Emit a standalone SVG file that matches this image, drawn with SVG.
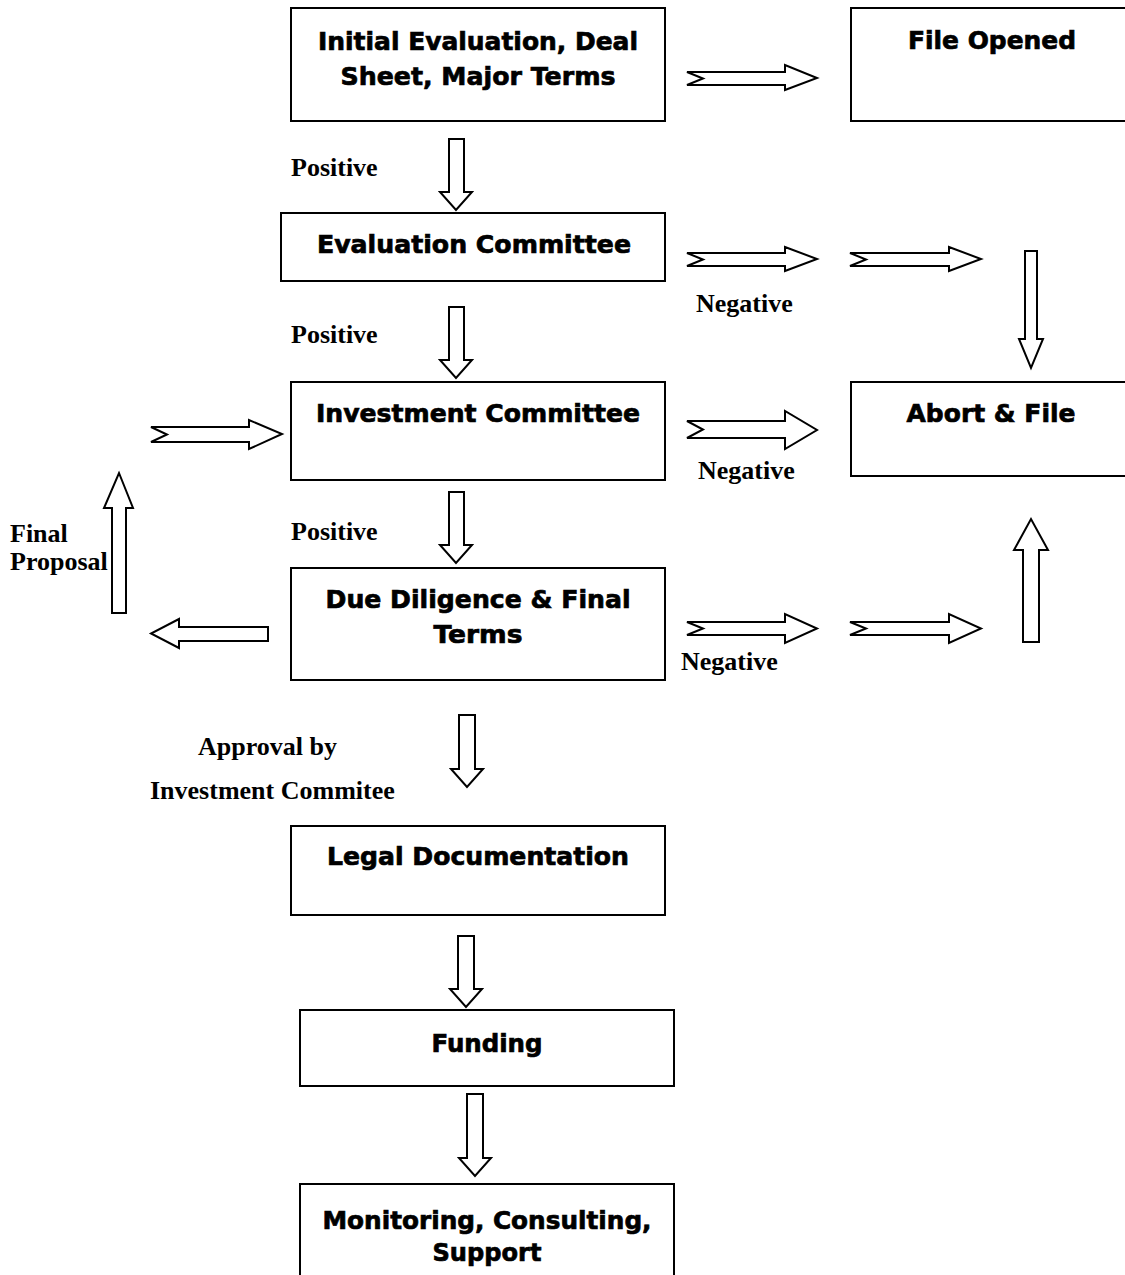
<svg xmlns="http://www.w3.org/2000/svg" width="1125" height="1275" viewBox="0 0 1125 1275">
<style>
.box{fill:#fff;stroke:#000;stroke-width:2}
.arr{fill:#fff;stroke:#000;stroke-width:2;stroke-linejoin:miter}
.t{font-family:"DejaVu Sans","Liberation Sans",sans-serif;font-weight:bold;font-size:25px;text-anchor:middle;fill:#000;stroke:#000;stroke-width:0.7}
.l{font-family:"Liberation Serif","Times New Roman",serif;font-weight:bold;font-size:26px;fill:#000}
</style>
<rect width="1125" height="1275" fill="#fff"/>
<g id="n-initial"><rect class="box" x="291" y="8" width="374" height="113"/>
<text class="t" x="478" y="50" textLength="320" lengthAdjust="spacingAndGlyphs">Initial Evaluation, Deal</text>
<text class="t" x="478" y="85" textLength="275" lengthAdjust="spacingAndGlyphs">Sheet, Major Terms</text></g>
<g id="n-fileopened"><rect class="box" x="851" y="8" width="290" height="113"/>
<text class="t" x="992" y="49" textLength="168" lengthAdjust="spacingAndGlyphs">File Opened</text></g>
<g id="n-evaluation"><rect class="box" x="281" y="213" width="384" height="68"/>
<text class="t" x="474" y="253" textLength="314" lengthAdjust="spacingAndGlyphs">Evaluation Committee</text></g>
<g id="n-investment"><rect class="box" x="291" y="382" width="374" height="98"/>
<text class="t" x="478" y="422" textLength="324" lengthAdjust="spacingAndGlyphs">Investment Committee</text></g>
<g id="n-abort"><rect class="box" x="851" y="382" width="290" height="94"/>
<text class="t" x="991" y="422" textLength="169" lengthAdjust="spacingAndGlyphs">Abort &amp; File</text></g>
<g id="n-due"><rect class="box" x="291" y="568" width="374" height="112"/>
<text class="t" x="478" y="608" textLength="305" lengthAdjust="spacingAndGlyphs">Due Diligence &amp; Final</text>
<text class="t" x="478" y="643" textLength="89" lengthAdjust="spacingAndGlyphs">Terms</text></g>
<g id="n-legal"><rect class="box" x="291" y="826" width="374" height="89"/>
<text class="t" x="478" y="865" textLength="302" lengthAdjust="spacingAndGlyphs">Legal Documentation</text></g>
<g id="n-funding"><rect class="box" x="300" y="1010" width="374" height="76"/>
<text class="t" x="487" y="1052" textLength="111" lengthAdjust="spacingAndGlyphs">Funding</text></g>
<g id="n-monitoring"><rect class="box" x="300" y="1184" width="374" height="110"/>
<text class="t" x="487" y="1229" textLength="329" lengthAdjust="spacingAndGlyphs">Monitoring, Consulting,</text>
<text class="t" x="487" y="1261" textLength="109" lengthAdjust="spacingAndGlyphs">Support</text></g>
<g id="connectors">
<path class="arr" d="M687,72 L785,72 L785,65 L817,78 L785,90 L785,85 L687,85 L703,78.5 Z"/>
<path class="arr" d="M449,139 L464,139 L464,192 L472,192 L456,210 L440,192 L449,192 Z"/>
<path class="arr" d="M449,307 L464,307 L464,360 L472,360 L456,378 L440,360 L449,360 Z"/>
<path class="arr" d="M449,492 L464,492 L464,545 L472,545 L456,563 L440,545 L449,545 Z"/>
<path class="arr" d="M459,715 L475,715 L475,769 L483,769 L467,787 L451,769 L459,769 Z"/>
<path class="arr" d="M458,936 L474,936 L474,989 L482,989 L466,1007 L450,989 L458,989 Z"/>
<path class="arr" d="M467,1094 L483,1094 L483,1158 L491,1158 L475,1176 L459,1158 L467,1158 Z"/>
<path class="arr" d="M687,253 L785,253 L785,247 L817,259 L785,271 L785,266 L687,266 L703,259.5 Z"/>
<path class="arr" d="M850,253 L949,253 L949,247 L981,259 L949,271 L949,266 L850,266 L866,259.5 Z"/>
<path class="arr" d="M1025,251 L1037,251 L1037,339 L1043,339 L1031,368 L1019,339 L1025,339 Z"/>
<path class="arr" d="M687,421 L785,421 L785,411 L817,430 L785,449 L785,438 L687,438 L703,429.5 Z"/>
<path class="arr" d="M151,427 L249,427 L249,420 L282,434 L249,449 L249,442 L151,442 L167,434.5 Z"/>
<path class="arr" d="M268,627 L179,627 L179,619 L151,633.5 L179,648 L179,641 L268,641 Z"/>
<path class="arr" d="M112,613 L112,508 L104,508 L119,473 L133,508 L126,508 L126,613 Z"/>
<path class="arr" d="M687,622 L785,622 L785,614 L817,628.5 L785,643 L785,635 L687,635 L703,628.5 Z"/>
<path class="arr" d="M850,622 L949,622 L949,614 L981,628.5 L949,643 L949,635 L850,635 L866,628.5 Z"/>
<path class="arr" d="M1023,642 L1023,550 L1014,550 L1031,519 L1048,550 L1039,550 L1039,642 Z"/>
</g>
<g id="labels">
<text class="l" x="291" y="176">Positive</text>
<text class="l" x="291" y="343">Positive</text>
<text class="l" x="696" y="312">Negative</text>
<text class="l" x="291" y="540">Positive</text>
<text class="l" x="698" y="479">Negative</text>
<text class="l" x="10" y="542">Final</text>
<text class="l" x="10" y="570">Proposal</text>
<text class="l" x="681" y="670">Negative</text>
<text class="l" x="198" y="755">Approval by</text>
<text class="l" x="150" y="799">Investment Commitee</text>
</g>
</svg>
